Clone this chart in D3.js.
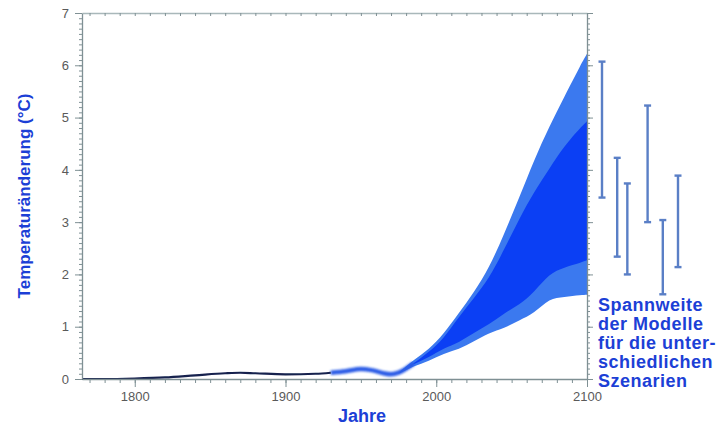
<!DOCTYPE html>
<html>
<head>
<meta charset="utf-8">
<script src="https://cdn.jsdelivr.net/npm/d3@7"></script>
<style>
  body { margin: 0; background: #fff; }
  svg { display: block; font-family: "Liberation Sans", Arial, sans-serif; }
</style>
</head>
<body>
<svg id="chart" width="717" height="427"></svg>
<script>
// Observed temperature change since pre-industrial times (°C)
const histYears  = [1765, 1780, 1800, 1820, 1840, 1860, 1870, 1880, 1900, 1920, 1930];
const histValues = [0.00, 0.00, 0.01, 0.03, 0.07, 0.11, 0.12, 0.11, 0.09, 0.10, 0.12];

const recentYears  = [1930, 1940, 1950, 1957, 1965, 1970, 1975, 1980, 1985];
const recentValues = [0.12, 0.15, 0.19, 0.17, 0.11, 0.09, 0.12, 0.20, 0.30];

// Projections: full envelope and range of the model ensemble
const projYears  = [1975, 1985, 1995, 2005, 2015, 2025, 2035, 2045, 2055, 2065, 2075, 2085, 2095, 2100];
const outerUpper = [0.12, 0.36, 0.58, 0.88, 1.26, 1.67, 2.15, 2.78, 3.47, 4.18, 4.82, 5.40, 5.96, 6.22];
const innerUpper = [0.12, 0.30, 0.52, 0.80, 1.18, 1.55, 1.95, 2.48, 3.05, 3.57, 4.02, 4.44, 4.78, 4.93];
const innerLower = [0.12, 0.28, 0.42, 0.58, 0.71, 0.88, 1.05, 1.25, 1.43, 1.68, 1.98, 2.13, 2.22, 2.27];
const outerLower = [0.10, 0.24, 0.35, 0.48, 0.58, 0.72, 0.87, 0.98, 1.12, 1.28, 1.50, 1.57, 1.60, 1.61];

// Ranges in 2100 per emissions scenario
const scenarios   = ["A1FI", "A1B", "A1T", "A2", "B1", "B2"];
const scenarioMax = [6.07, 4.23, 3.74, 5.23, 3.04, 3.89];
const scenarioMin = [3.47, 2.34, 2.00, 3.00, 1.62, 2.14];

const xTicks = [1800, 1900, 2000, 2100];
const yTicks = [0, 1, 2, 3, 4, 5, 6, 7];

const noteLines = ["Spannweite", "der Modelle", "für die unter-", "schiedlichen", "Szenarien"];

const svg = d3.select("#chart");
const axisColor = "#7f9094";
const labelColor = "#5a5a5a";
const titleColor = "#1c3fd6";

const x = d3.scaleLinear().domain([1765, 2100]).range([82, 587]);
const y = d3.scaleLinear().domain([0, 7]).range([379, 13]);

// Blur for the soft observed lines
const defs = svg.append("defs");
defs.append("filter").attr("id", "soft").attr("x", "-5%").attr("y", "-50%").attr("width", "110%").attr("height", "200%")
  .append("feGaussianBlur").attr("stdDeviation", 0.9);
defs.append("filter").attr("id", "softer").attr("x", "-5%").attr("y", "-50%").attr("width", "110%").attr("height", "200%")
  .append("feGaussianBlur").attr("stdDeviation", 0.4);

// Bands
const proj = projYears.map((yr, i) => ({yr, ou: outerUpper[i], iu: innerUpper[i], il: innerLower[i], ol: outerLower[i]}));
const outerArea = d3.area().curve(d3.curveNatural).x(d => x(d.yr)).y0(d => y(d.ol)).y1(d => y(d.ou));
const innerArea = d3.area().curve(d3.curveNatural).x(d => x(d.yr)).y0(d => y(d.il)).y1(d => y(d.iu));
svg.append("path").datum(proj).attr("d", outerArea).attr("fill", "#3b79ef");
svg.append("path").datum(proj).attr("d", innerArea).attr("fill", "#0b3ff4");

// Observed lines
const line = d3.line().curve(d3.curveMonotoneX).x(d => x(d[0])).y(d => y(d[1]));
svg.append("path").datum(recentYears.map((yr, i) => [yr, recentValues[i]]))
  .attr("d", line).attr("fill", "none").attr("stroke", "#2a5be6").attr("stroke-width", 4.5)
  .attr("filter", "url(#soft)");
svg.append("path").datum(histYears.map((yr, i) => [yr, histValues[i]]))
  .attr("d", line).attr("fill", "none").attr("stroke", "#16204e").attr("stroke-width", 2.2)
  .attr("filter", "url(#softer)");

// Axes
function styleAxis(g) {
  g.selectAll(".domain").attr("stroke", axisColor).attr("stroke-width", 1.3);
  g.selectAll(".tick line").attr("stroke", axisColor).attr("stroke-width", 1);
  g.selectAll(".tick text").attr("fill", labelColor).style("font-size", "13px");
}
const minorX = d3.range(1770, 2101, 10);
const minorY = d3.range(0, 70.5, 1).map(v => v / 10);

// bottom
svg.append("g").attr("transform", `translate(0,${y(0)})`)
  .call(d3.axisBottom(x).tickValues(minorX).tickSize(4).tickFormat("").tickSizeOuter(0)).call(styleAxis);
svg.append("g").attr("transform", `translate(0,${y(0)})`)
  .call(d3.axisBottom(x).tickValues(xTicks).tickSize(8).tickPadding(5).tickFormat(d3.format("d")).tickSizeOuter(0))
  .call(styleAxis).call(g => g.select(".domain").remove());
// top
svg.append("g").attr("transform", `translate(0,${y(7)})`)
  .call(d3.axisBottom(x).tickValues(minorX).tickSize(3).tickFormat("").tickSizeOuter(0)).call(styleAxis)
  .call(g => g.select(".domain").attr("stroke", "#a9b8ba"));
// left
svg.append("g").attr("transform", `translate(${x(1765)},0)`)
  .call(d3.axisLeft(y).tickValues(minorY).tickSize(3).tickFormat("").tickSizeOuter(0)).call(styleAxis);
svg.append("g").attr("transform", `translate(${x(1765)},0)`)
  .call(d3.axisLeft(y).tickValues(yTicks).tickSize(7).tickPadding(6).tickFormat(d3.format("d")).tickSizeOuter(0))
  .call(styleAxis).call(g => g.select(".domain").remove());
// right
svg.append("g").attr("transform", `translate(${x(2100)},0)`)
  .call(d3.axisRight(y).tickValues(minorY).tickSize(3).tickFormat("").tickSizeOuter(0)).call(styleAxis);
svg.append("g").attr("transform", `translate(${x(2100)},0)`)
  .call(d3.axisRight(y).tickValues(yTicks).tickSize(6).tickFormat("").tickSizeOuter(0))
  .call(styleAxis).call(g => g.select(".domain").remove());

// Axis titles
svg.append("text").attr("x", 362).attr("y", 422).attr("text-anchor", "middle")
  .attr("fill", titleColor).style("font-size", "18px").style("font-weight", "bold").text("Jahre");
svg.append("text").attr("transform", `translate(30,${(y(0) + y(7)) / 2}) rotate(-90)`)
  .attr("text-anchor", "middle").attr("fill", titleColor)
  .style("font-size", "17px").style("font-weight", "bold").text("Temperaturänderung (°C)");

// Scenario range bars, grouped in slots to the right of the plot
const slotOf = {A1FI: 0, A1B: 3, A1T: 5, A2: 9, B1: 12, B2: 15};
const sx = d3.scalePoint().domain(d3.range(16)).range([x(2100) + 15, x(2100) + 91]);
const bars = svg.append("g").selectAll("g").data(scenarios).join("g")
  .attr("stroke", "#5a7fc6").attr("stroke-width", 2.4);
bars.append("line").attr("x1", d => sx(slotOf[d])).attr("x2", d => sx(slotOf[d]))
  .attr("y1", (d, i) => y(scenarioMax[i])).attr("y2", (d, i) => y(scenarioMin[i]));
bars.append("line").attr("x1", d => sx(slotOf[d]) - 3.5).attr("x2", d => sx(slotOf[d]) + 3.5)
  .attr("y1", (d, i) => y(scenarioMax[i])).attr("y2", (d, i) => y(scenarioMax[i]));
bars.append("line").attr("x1", d => sx(slotOf[d]) - 3.5).attr("x2", d => sx(slotOf[d]) + 3.5)
  .attr("y1", (d, i) => y(scenarioMin[i])).attr("y2", (d, i) => y(scenarioMin[i]));

// Note below the bars
svg.append("g").selectAll("text").data(noteLines).join("text")
  .attr("x", x(2100) + 11).attr("y", (d, i) => 311 + i * 19)
  .attr("fill", titleColor).style("font-size", "18px").style("font-weight", "bold")
  .style("letter-spacing", "0.5px").text(d => d);
</script>
</body>
</html>
